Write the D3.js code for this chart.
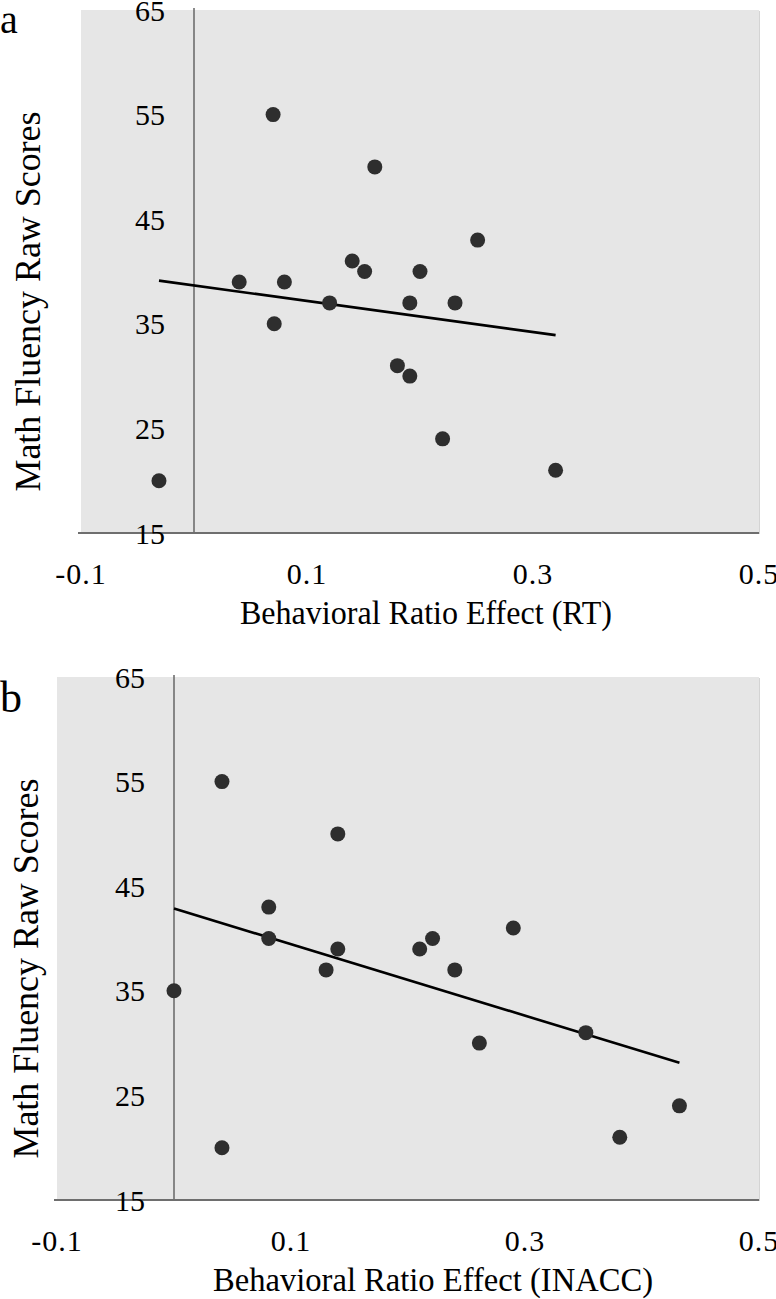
<!DOCTYPE html>
<html>
<head>
<meta charset="utf-8">
<script src="https://cdn.jsdelivr.net/npm/d3@7/dist/d3.min.js"></script>
<style>
  html, body { margin: 0; padding: 0; background: #fff; }
  svg { display: block; }
  text { font-family: "Liberation Serif", "Times New Roman", serif; fill: #000; }
</style>
</head>
<body>
<svg id="chart" width="776" height="1299"></svg>
<script>
// ---- Data ----
const xTicks = [-0.1, 0.1, 0.3, 0.5];
const yTicks = [15, 25, 35, 45, 55, 65];
const xTickLabels = ["-0.1", "0.1", "0.3", "0.5"];
const yTickLabels = ["15", "25", "35", "45", "55", "65"];

// Panel a: Behavioral Ratio Effect (RT)
const rtEffect = [0.070, 0.160, 0.251, 0.140, 0.151, 0.200, 0.040, 0.080, 0.120, 0.191, 0.231, 0.071, 0.180, 0.191, 0.220, 0.320, -0.031];
const rtScores = [55, 50, 43, 41, 40, 40, 39, 39, 37, 37, 37, 35, 31, 30, 24, 21, 20];

// Panel b: Behavioral Ratio Effect (INACC)
const inaccEffect = [0.041, 0.140, 0.081, 0.081, 0.140, 0.130, 0.210, 0.221, 0.240, 0.000, 0.290, 0.261, 0.352, 0.432, 0.381, 0.041];
const inaccScores = [55, 50, 43, 40, 39, 37, 39, 40, 37, 35, 41, 30, 31, 24, 21, 20];

const panels = [
  { label: "a", xTitle: "Behavioral Ratio Effect (RT)", xs: rtEffect, ys: rtScores,
    left: 81, right: 759, top: 10, bottom: 533, labelY: 33, labelSize: 40,
    titleX0: 240, titleX1: 612, yTitleX: 40 },
  { label: "b", xTitle: "Behavioral Ratio Effect (INACC)", xs: inaccEffect, ys: inaccScores,
    left: 57, right: 759, top: 677, bottom: 1200, labelY: 712, labelSize: 44,
    titleX0: 213, titleX1: 653, yTitleX: 38 }
];

const svg = d3.select("#chart");

panels.forEach(p => {
  const x = d3.scaleLinear().domain([-0.1, 0.5]).range([p.left, p.right]);
  const y = d3.scaleLinear().domain([15, 65]).range([p.bottom, p.top]);
  const g = svg.append("g");

  // plot background with faint shadow
  g.append("rect")
    .attr("x", x(-0.1) + 1).attr("y", y(65) + 1)
    .attr("width", x(0.5) - x(-0.1)).attr("height", y(15) - y(65))
    .attr("fill", "#d4d4d4");
  g.append("rect")
    .attr("x", x(-0.1)).attr("y", y(65))
    .attr("width", x(0.5) - x(-0.1)).attr("height", y(15) - y(65))
    .attr("fill", "#e6e6e6");

  // vertical axis at x = 0
  g.append("line")
    .attr("x1", x(0)).attr("x2", x(0))
    .attr("y1", y(65) - 2).attr("y2", y(15))
    .attr("stroke", "#6e6e6e").attr("stroke-width", 1.6);

  // horizontal axis at y = 15
  g.append("line")
    .attr("x1", x(-0.1) - 3).attr("x2", x(0.5))
    .attr("y1", y(15)).attr("y2", y(15))
    .attr("stroke", "#6e6e6e").attr("stroke-width", 2);

  // y tick labels (right-aligned a little left of the x = 0 axis)
  g.selectAll(".ytick").data(yTicks).enter().append("text")
    .attr("x", x(0) - 29)
    .attr("y", d => y(d))
    .attr("dy", "0.35em")
    .attr("text-anchor", "end")
    .attr("font-size", 30)
    .text((d, i) => yTickLabels[i]);

  // x tick labels
  g.selectAll(".xtick").data(xTicks).enter().append("text")
    .attr("x", d => x(d))
    .attr("y", y(15) + 40)
    .attr("dy", "0.35em")
    .attr("text-anchor", "middle")
    .attr("font-size", 30)
    .attr("letter-spacing", 1)
    .text((d, i) => xTickLabels[i]);

  // regression line over the data range
  const mx = d3.mean(p.xs), my = d3.mean(p.ys);
  const sxy = d3.sum(p.xs, (v, i) => (v - mx) * (p.ys[i] - my));
  const sxx = d3.sum(p.xs, v => (v - mx) * (v - mx));
  const slope = sxy / sxx, icpt = my - slope * mx;
  const [xmin, xmax] = d3.extent(p.xs);
  g.append("line")
    .attr("x1", x(xmin)).attr("y1", y(icpt + slope * xmin))
    .attr("x2", x(xmax)).attr("y2", y(icpt + slope * xmax))
    .attr("stroke", "#000").attr("stroke-width", 2.6);

  // points
  g.selectAll(".pt").data(p.xs).enter().append("circle")
    .attr("cx", d => x(d))
    .attr("cy", (d, i) => y(p.ys[i]))
    .attr("r", 7.5)
    .attr("fill", "#2e2e2e");

  // x-axis title
  g.append("text")
    .attr("x", p.titleX0)
    .attr("y", y(15) + 91)
    .attr("font-size", 33)
    .attr("textLength", p.titleX1 - p.titleX0)
    .attr("lengthAdjust", "spacingAndGlyphs")
    .text(p.xTitle);

  // y-axis title
  const cy = (p.top + p.bottom) / 2 + 30;
  g.append("text")
    .attr("transform", `translate(${p.yTitleX},${cy + 190}) rotate(-90)`)
    .attr("font-size", 35)
    .attr("textLength", 380)
    .attr("lengthAdjust", "spacingAndGlyphs")
    .text("Math Fluency Raw Scores");

  // panel label
  g.append("text")
    .attr("x", 0).attr("y", p.labelY)
    .attr("font-size", p.labelSize)
    .text(p.label);
});
</script>
</body>
</html>
